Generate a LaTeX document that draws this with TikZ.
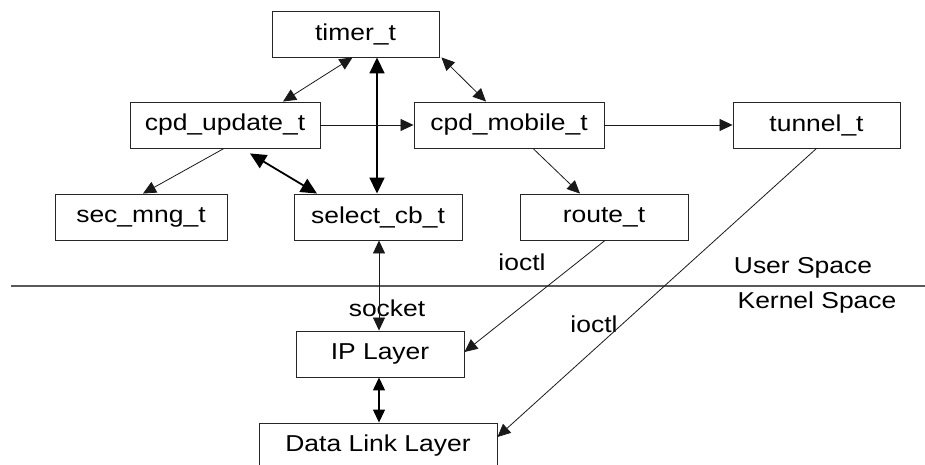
\documentclass[tikz,border=0pt]{standalone}
\usepackage{fontspec}
\setmainfont[FakeStretch=1.15]{Liberation Sans}
\usetikzlibrary{arrows.meta}
\begin{document}
\begin{tikzpicture}[x=1pt,y=-1pt,
  box/.style={draw=black!85, line width=0.9pt, rectangle, minimum height=46pt, inner sep=0pt, font=\fontsize{23}{26}\selectfont},
  lbl/.style={inner sep=0pt, font=\fontsize{23}{26}\selectfont},
  thin/.style={line width=0.8pt, draw=black!90},
  thick2/.style={line width=1.8pt},
  mid/.style={line width=1.3pt},
  tip/.style={-{Triangle[length=13pt,width=12pt]}},
  dtip/.style={{Triangle[length=13pt,width=12pt]}-{Triangle[length=13pt,width=12pt]}},
  btip/.style={{Triangle[length=16pt,width=15pt]}-{Triangle[length=16pt,width=15pt]}}
]
\useasboundingbox (0,0) rectangle (925,465);
\node[box, minimum width=167pt] (timer) at (355.5,34) {timer\_t};
\node[box, minimum width=190pt] (upd) at (225,125) {cpd\_update\_t};
\node[box, minimum width=190pt] (mob) at (509,125) {cpd\_mobile\_t};
\node[box, minimum width=167pt] (tun) at (816.5,125) {tunnel\_t};
\node[box, minimum width=172pt] (sec) at (141,217) {sec\_mng\_t};
\node[box, minimum width=168pt] (sel) at (378,217) {select\_cb\_t};
\node[box, minimum width=168pt] (route) at (604,217) {route\_t};
\node[box, minimum width=168pt] (ip) at (380,354) {IP Layer};
\node[box, minimum width=238pt] (dl) at (378,446) {Data Link Layer};

\coordinate (lineL) at (11,286);
\coordinate (lineR) at (925,286);
\draw[line width=1.2pt, draw=black!65] (lineL) -- (lineR);

\node[lbl] (ioctlA) at (522,262) {ioctl};
\node[lbl] (sock) at (387,308) {socket};
\node[lbl] (ioctlB) at (594,324) {ioctl};
\node[lbl] (us) at (803,268) {User Space};
\node[lbl] (ks) at (817,303) {Kernel Space};

\draw[thin, dtip] ([xshift=58]upd.north) -- ([xshift=-3]timer.south);
\draw[thick2, btip] ([xshift=21.5]timer.south) -- ([xshift=-1]sel.north);
\draw[thin, dtip] ([xshift=2]timer.south east) -- ([xshift=-23]mob.north);
\draw[thin, tip] (upd.east) -- (mob.west);
\draw[thin, tip] ([xshift=-1]upd.south) -- ([xshift=2]sec.north);
\draw[thick2, btip] ([xshift=25,yshift=-5]upd.south) -- ([xshift=-61]sel.north);
\draw[thin, tip] (mob.east) -- (tun.west);
\draw[thin, tip] ([xshift=24]mob.south) -- ([xshift=-24]route.north);
\draw[thin, dtip] ([xshift=1]sel.south) -- ([xshift=-1]ip.north);
\draw[thin, tip] ([xshift=1]route.south) -- ([yshift=2]ip.east);
\draw[thin, tip] (tun.south) -- ([yshift=9]dl.east);
\draw[mid, dtip] ([xshift=-1]ip.south) -- ([xshift=1]dl.north);
\end{tikzpicture}
\end{document}
